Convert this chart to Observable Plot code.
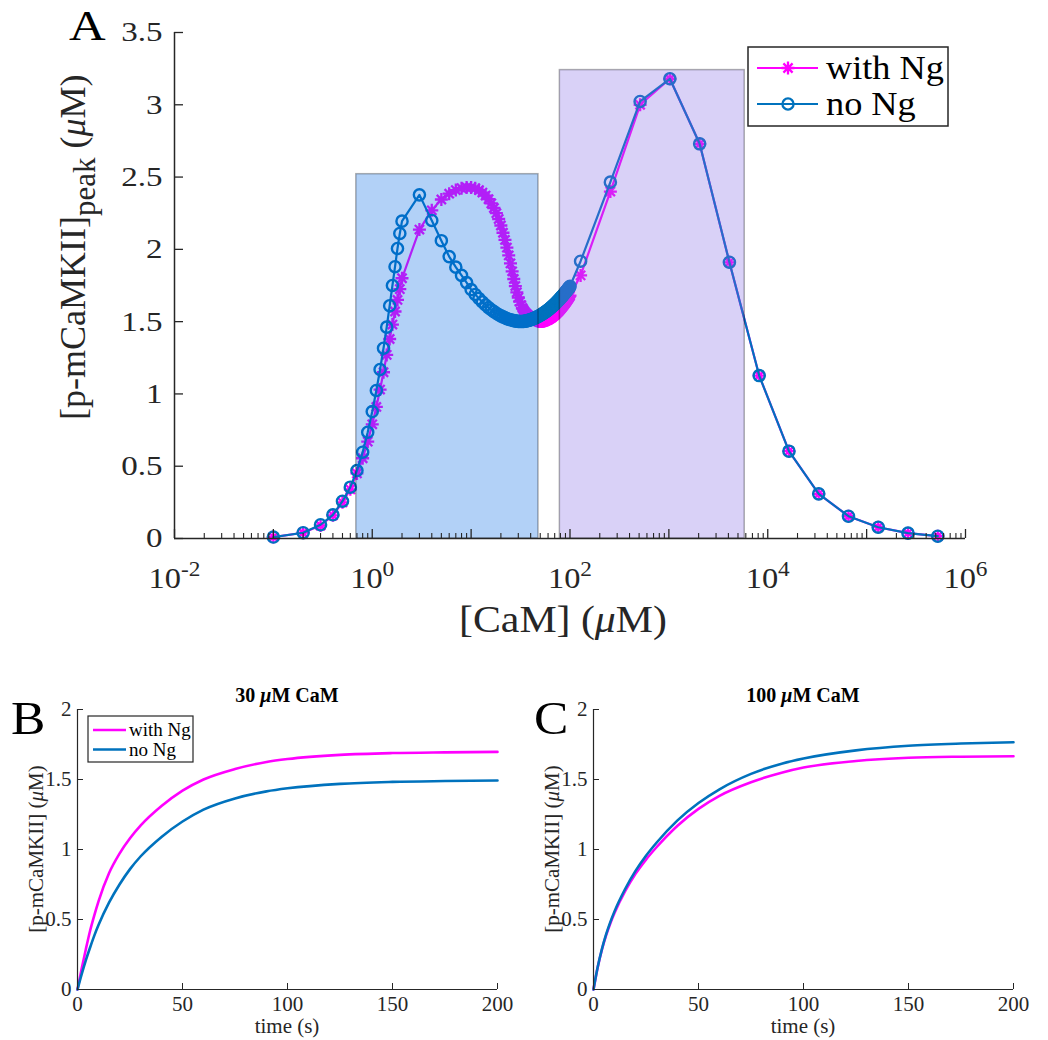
<!DOCTYPE html>
<html><head><meta charset="utf-8">
<script src="https://cdn.jsdelivr.net/npm/d3@7"></script>
<script src="https://cdn.jsdelivr.net/npm/@observablehq/plot@0.6"></script>
<style>
body{margin:0;background:#fff;width:1048px;height:1040px;position:relative;overflow:hidden;font-family:"Liberation Serif",serif}
.panel{position:absolute}
</style></head><body>
<div id="A" class="panel" style="left:0;top:0"></div>
<div id="B" class="panel" style="left:0;top:680px"></div>
<div id="C" class="panel" style="left:520px;top:680px"></div>
<script>
const MAG = "#ff00ff", BLUE = "#0072bd", AX = "#262626";
const FONT = "Liberation Serif";

// ---------- Panel A data ----------
const camConc = [0.1,0.2,0.3,0.4,0.5,0.6,0.7,0.8,0.9,1.0,1.1,1.2,1.3,1.4,1.5,1.6,1.7,1.8,1.9,2.0,
3,4,5,6,7,8,9,10,11,12,13,14,15,16,17,18,19,20,21,22,23,24,25,26,27,28,29,30,31,32,33,34,35,36,37,38,39,40,
41,42,43,44,45,46,47,48,49,50,51,52,53,54,55,56,57,58,59,60,61,62,63,64,65,66,67,68,69,70,71,72,73,74,75,76,77,78,79,80,
81,82,83,84,85,86,87,88,89,90,91,92,93,94,95,96,97,98,99,100,
128,256,512,1024,2048,4096,8192,16384,32768,65536,131072,262144,524288];

const peakNoNg = [0.01,0.04,0.095,0.164,0.258,0.355,0.47,0.597,0.735,0.878,1.024,1.169,1.316,1.462,1.61,1.75,1.88,2.006,2.11,2.195,
2.377,2.20,2.06,1.95,1.877,1.82,1.77,1.722,1.688,1.66,
1.636,1.615,1.597,1.582,1.569,1.558,1.548,1.54,1.533,1.527,
1.521,1.517,1.513,1.51,1.507,1.505,1.503,1.502,1.501,1.501,
1.501,1.502,1.503,1.505,1.507,1.509,1.511,1.514,1.516,1.519,
1.522,1.525,1.528,1.531,1.534,1.537,1.541,1.544,1.548,1.551,
1.555,1.559,1.562,1.566,1.57,1.573,1.577,1.581,1.585,1.589,
1.593,1.597,1.601,1.605,1.609,1.613,1.617,1.621,1.625,1.629,
1.633,1.638,1.642,1.646,1.65,1.654,1.658,1.663,1.667,1.671,
1.675,1.679,1.683,1.687,1.691,1.695,1.70,1.704,1.708,1.712,
1.716,1.72,1.724,1.728,1.732,1.736,1.74,1.745,
1.918,2.465,3.023,3.18,2.73,1.911,1.127,0.604,0.309,0.154,0.078,0.037,0.016];

const peakWithNg = [0.01,0.04,0.09,0.16,0.25,0.34,0.45,0.555,0.67,0.79,0.91,1.03,1.15,1.27,1.38,1.48,1.57,1.65,1.725,1.80,
2.137,2.27,2.345,2.385,2.41,2.423,2.428,2.428,2.422,2.41,
2.393,2.372,2.347,2.318,2.286,2.25,2.21,2.165,2.115,2.065,
2.012,1.958,1.903,1.848,1.795,1.746,1.703,1.667,1.638,1.614,
1.595,1.58,1.567,1.557,1.548,1.541,1.534,1.528,1.523,1.519,
1.515,1.512,1.509,1.507,1.505,1.503,1.502,1.501,1.501,1.501,
1.502,1.503,1.504,1.506,1.508,1.51,1.512,1.515,1.518,1.521,
1.524,1.527,1.53,1.534,1.537,1.541,1.544,1.548,1.552,1.556,
1.56,1.564,1.568,1.572,1.576,1.58,1.585,1.589,1.593,1.598,
1.602,1.607,1.611,1.616,1.62,1.625,1.629,1.634,1.638,1.643,
1.648,1.652,1.657,1.662,1.666,1.671,1.676,1.68,
1.82,2.40,3.00,3.18,2.73,1.91,1.127,0.604,0.309,0.154,0.078,0.037,0.016];

// shaded regions
const regionLo = [0.69, 79];
const regionHi = [48, 5850];
const regionTop = [2.52, 3.24];
const regionColor = ["rgb(0,102,230)", "rgb(128,102,230)"];

const xLabelTicks = [1e-2, 1, 1e2, 1e4, 1e6];
const xMajorTicks = [1e-2, 1e-1, 1, 1e1, 1e2, 1e3, 1e4, 1e5, 1e6];
const yTicksA = [0, 0.5, 1, 1.5, 2, 2.5, 3, 3.5];
const seriesNames = ["with Ng", "no Ng"];

// ---------- Panels B, C data ----------
const timeS   = [0,2,4,6,8,10,15,20,25,30,40,50,60,75,90,100,125,150,175,200];
const withNgB = [0,0.15,0.29,0.42,0.53,0.63,0.83,0.97,1.08,1.17,1.31,1.42,1.50,1.575,1.625,1.646,1.676,1.689,1.694,1.697];
const noNgB   = [0,0.11,0.21,0.30,0.385,0.46,0.62,0.75,0.86,0.95,1.09,1.20,1.285,1.365,1.415,1.437,1.469,1.483,1.489,1.493];
const withNgC = [0,0.158,0.284,0.386,0.472,0.546,0.70,0.826,0.928,1.016,1.17,1.29,1.383,1.48,1.55,1.585,1.632,1.655,1.663,1.666];
const noNgC   = [0,0.16,0.288,0.393,0.481,0.558,0.716,0.847,0.955,1.048,1.208,1.332,1.43,1.54,1.615,1.65,1.708,1.741,1.757,1.766];
const timeTicks = [0, 50, 100, 150, 200];
const concTicks = [0, 0.5, 1, 1.5, 2];

// 8-spoke asterisk marker (MATLAB '*')
const asterisk8 = {draw(ctx, size) {
  const r = Math.sqrt(size / Math.PI);
  for (let k = 0; k < 4; k++) {
    const a = k * Math.PI / 4, dx = r * Math.cos(a), dy = r * Math.sin(a);
    ctx.moveTo(-dx, -dy); ctx.lineTo(dx, dy);
  }
}};

// minor ticks of the log axis
const xMinorTicks = [];
for (let e = -2; e < 6; e++) for (let m = 2; m <= 9; m++) xMinorTicks.push(m * Math.pow(10, e));

// horizontal stretch of texts about their anchor
function stretchTexts(sel, sx) {
  sel.each(function(){
    const t = d3.select(this);
    const tr = t.attr("transform");
    if (tr) t.attr("transform", tr + ` scale(${sx},1)`);
    else {
      const x = +t.attr("x") || 0, y = +t.attr("y") || 0;
      t.attr("x", null).attr("y", null).attr("transform", `translate(${x},${y}) scale(${sx},1)`);
    }
  });
}

// ---------- Panel A ----------
(function(){
  const W = 1048, H = 660, mL = 174, mR = 83, mT = 32, mB = 122;
  const iH = H - mT - mB, iW = W - mL - mR;
  const withRows = camConc.map((c, i) => ({cam: c, v: peakWithNg[i]}));
  const noRows = camConc.map((c, i) => ({cam: c, v: peakNoNg[i]}));
  const regions = regionLo.map((lo, i) => ({lo, hi: regionHi[i], top: regionTop[i], color: regionColor[i]}));
  const svg = Plot.plot({
    width: W, height: H, marginLeft: mL, marginRight: mR, marginTop: mT, marginBottom: mB,
    style: {fontFamily: FONT, color: AX, background: "white", overflow: "visible"},
    x: {type: "log", domain: [1e-2, 1e6]},
    y: {domain: [0, 3.5]},
    marks: [
      Plot.line(withRows, {x: "cam", y: "v", stroke: MAG, strokeWidth: 2.2}),
      Plot.dot(withRows, {x: "cam", y: "v", symbol: asterisk8, r: 6.5, stroke: MAG, strokeWidth: 2.3, fill: "none"}),
      Plot.line(noRows, {x: "cam", y: "v", stroke: BLUE, strokeWidth: 2.2}),
      Plot.dot(noRows, {x: "cam", y: "v", symbol: "circle", r: 5.6, stroke: BLUE, strokeWidth: 2.4, fill: "none"}),
      Plot.rect([regions[0]], {x1: "lo", x2: "hi", y1: 0, y2: "top", fill: regions[0].color, fillOpacity: 0.3, stroke: "#000", strokeOpacity: 0.3, strokeWidth: 1.5}),
      Plot.rect([regions[1]], {x1: "lo", x2: "hi", y1: 0, y2: "top", fill: regions[1].color, fillOpacity: 0.3, stroke: "#000", strokeOpacity: 0.3, strokeWidth: 1.5}),
      Plot.ruleY([0], {stroke: AX, strokeWidth: 1.5}),
      Plot.ruleX([1e-2], {stroke: AX, strokeWidth: 1.5}),
      Plot.tickX(xMajorTicks, {x: d => d, insetTop: iH - 9, stroke: AX, strokeWidth: 1.3}),
      Plot.tickX(xMinorTicks, {x: d => d, insetTop: iH - 5, stroke: AX, strokeWidth: 1.1}),
      Plot.tickY(yTicksA, {y: d => d, insetRight: iW - 9, stroke: AX, strokeWidth: 1.3}),
      Plot.axisY({ticks: yTicksA, tickSize: 0, tickPadding: 12, fontSize: 28, label: null, tickFormat: d => String(d)}),
      Plot.axisX({ticks: xLabelTicks, tickSize: 0, tickPadding: 28, fontSize: 30, label: null, tickFormat: d => "10^" + Math.round(Math.log10(d))})
    ]
  });
  const s = d3.select(svg);
  s.selectAll('g[aria-label="x-axis tick label"] text').each(function(){
    const parts = this.textContent.split("^");
    if (parts.length === 2) {
      const el = d3.select(this); el.text(null);
      el.append("tspan").text(parts[0]);
      el.append("tspan").attr("dy", "-0.55em").attr("font-size", "0.72em").text(parts[1]);
    }
  });
  stretchTexts(s.selectAll('g[aria-label="y-axis tick label"] text'), 1.18);
  stretchTexts(s.selectAll('g[aria-label="x-axis tick label"] text'), 1.08);
  // panel letter
  s.append("text").attr("transform", "translate(69,39.5) scale(1.18,1)").attr("text-anchor", "start").attr("font-size", 43).attr("font-family", FONT).attr("fill", "#000").text("A");
  // x label
  const xl = s.append("text").attr("transform", "translate(563,632) scale(1.1,1)").attr("text-anchor", "middle").attr("font-size", 38).attr("font-family", FONT).attr("fill", AX);
  xl.append("tspan").text("[CaM] (");
  xl.append("tspan").attr("font-style", "italic").text("\u03bc");
  xl.append("tspan").text("M)");
  // y label
  const yl = s.append("text").attr("transform", "translate(85,420) rotate(-90)").attr("text-anchor", "start").attr("font-size", 36).attr("font-family", FONT).attr("fill", AX);
  yl.append("tspan").text("[p-mCaMKII]");
  yl.append("tspan").attr("dy", 10).attr("font-size", 31).text("peak");
  yl.append("tspan").attr("dy", -10).text(" (");
  yl.append("tspan").attr("font-style", "italic").text("\u03bc");
  yl.append("tspan").text("M)");
  // legend
  const lg = s.append("g");
  lg.append("rect").attr("x", 748).attr("y", 47).attr("width", 200).attr("height", 79).attr("fill", "white").attr("stroke", AX).attr("stroke-width", 1.5);
  const entries = [
    {name: seriesNames[0], color: MAG, sym: asterisk8, size: Math.PI * 42, y: 68},
    {name: seriesNames[1], color: BLUE, sym: d3.symbolCircle, size: Math.PI * 31, y: 104}
  ];
  for (const e of entries) {
    lg.append("line").attr("x1", 757).attr("x2", 818).attr("y1", e.y).attr("y2", e.y).attr("stroke", e.color).attr("stroke-width", 2.2);
    lg.append("path").attr("d", d3.symbol(e.sym, e.size)()).attr("transform", `translate(788,${e.y})`).attr("fill", "none").attr("stroke", e.color).attr("stroke-width", 2.3);
    lg.append("text").attr("transform", `translate(826,${e.y + 11}) scale(1.1,1)`).attr("text-anchor", "start").attr("font-size", 33).attr("font-family", FONT).attr("fill", "#000").text(e.name);
  }
  document.getElementById("A").appendChild(svg);
})();

// ---------- Panels B, C ----------
function timePanel(el, {width, marginLeft, marginRight, withV, noV, conc, letter, letterX, legend}) {
  const H = 360, mT = 29, mB = 51;
  const iH = H - mT - mB, iW = width - marginLeft - marginRight;
  const rowsW = timeS.map((t, i) => ({t, v: withV[i]}));
  const rowsN = timeS.map((t, i) => ({t, v: noV[i]}));
  const svg = Plot.plot({
    width, height: H, marginLeft, marginRight, marginTop: mT, marginBottom: mB,
    style: {fontFamily: FONT, color: AX, background: "transparent", overflow: "visible"},
    x: {domain: [0, 200]}, y: {domain: [0, 2]},
    marks: [
      Plot.line(rowsW, {x: "t", y: "v", stroke: MAG, strokeWidth: 2.6, curve: "monotone-x"}),
      Plot.line(rowsN, {x: "t", y: "v", stroke: BLUE, strokeWidth: 2.6, curve: "monotone-x"}),
      Plot.ruleY([0], {stroke: AX, strokeWidth: 1.2}),
      Plot.ruleX([0], {stroke: AX, strokeWidth: 1.2}),
      Plot.tickX(timeTicks, {x: d => d, insetTop: iH - 6, stroke: AX}),
      Plot.tickY(concTicks, {y: d => d, insetRight: iW - 6, stroke: AX}),
      Plot.axisX({ticks: timeTicks, tickSize: 0, tickPadding: 7, fontSize: 21, label: null}),
      Plot.axisY({ticks: concTicks, tickSize: 0, tickPadding: 6, fontSize: 21, label: null, tickFormat: d => String(d)})
    ]
  });
  const s = d3.select(svg);
  const cx = marginLeft + iW / 2;
  const tt = s.append("text").attr("x", cx).attr("y", 22).attr("text-anchor", "middle").attr("font-size", 20).attr("font-weight", "bold").attr("font-family", FONT).attr("fill", "#000");
  tt.append("tspan").text(conc + " ");
  tt.append("tspan").attr("font-style", "italic").text("\u03bc");
  tt.append("tspan").text("M CaM");
  s.append("text").attr("x", cx).attr("y", 353).attr("text-anchor", "middle").attr("font-size", 21).attr("font-family", FONT).attr("fill", AX).text("time (s)");
  const yl = s.append("text").attr("transform", `translate(${marginLeft - 34},${mT + iH / 2}) rotate(-90)`).attr("text-anchor", "middle").attr("font-size", 21).attr("font-family", FONT).attr("fill", AX);
  yl.append("tspan").text("[p-mCaMKII] (");
  yl.append("tspan").attr("font-style", "italic").text("\u03bc");
  yl.append("tspan").text("M)");
  s.append("text").attr("transform", `translate(${letterX},54) scale(1.12,1)`).attr("text-anchor", "start").attr("font-size", 46).attr("font-family", FONT).attr("fill", "#000").text(letter);
  if (legend) {
    const g = s.append("g");
    g.append("rect").attr("x", 88).attr("y", 36).attr("width", 105).attr("height", 46).attr("fill", "white").attr("stroke", AX).attr("stroke-width", 1.2);
    [[seriesNames[0], MAG, 50], [seriesNames[1], BLUE, 69.5]].forEach(([n, c, y]) => {
      g.append("line").attr("x1", 93).attr("x2", 126).attr("y1", y).attr("y2", y).attr("stroke", c).attr("stroke-width", 2.6);
      g.append("text").attr("x", 129).attr("y", y + 6).attr("text-anchor", "start").attr("font-size", 19).attr("font-family", FONT).attr("fill", "#000").text(n);
    });
  }
  document.getElementById(el).appendChild(svg);
}
timePanel("B", {width: 520, marginLeft: 77, marginRight: 23, withV: withNgB, noV: noNgB, conc: "30", letter: "B", letterX: 11, legend: true});
timePanel("C", {width: 528, marginLeft: 73, marginRight: 35, withV: withNgC, noV: noNgC, conc: "100", letter: "C", letterX: 14, legend: false});
</script></body></html>
